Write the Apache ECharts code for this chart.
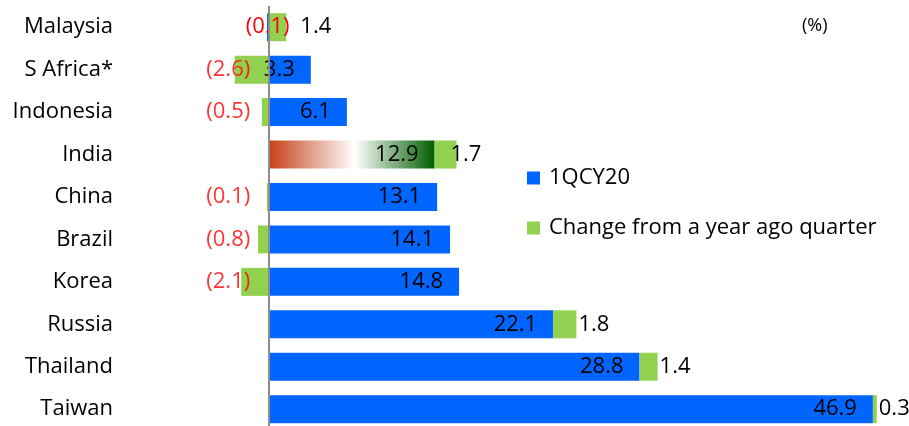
<!DOCTYPE html>
<html>
<head>
<meta charset="utf-8">
<script src="https://cdn.jsdelivr.net/npm/echarts@6/dist/echarts.min.js"></script>
<style>
  html, body { margin: 0; padding: 0; background: #fff; }
  #chart { width: 909px; height: 426px; }
</style>
</head>
<body>
<div id="chart"></div>
<script>
// Countries, top to bottom
const countries = ['Malaysia', 'S Africa*', 'Indonesia', 'India', 'China', 'Brazil', 'Korea', 'Russia', 'Thailand', 'Taiwan'];
// Level in 1QCY20 (%)
const current = [-0.1, 3.3, 6.1, 12.9, 13.1, 14.1, 14.8, 22.1, 28.8, 46.9];
// Change from a year ago quarter (pp)
const change = [1.4, -2.6, -0.5, 1.7, -0.1, -0.8, -2.1, 1.8, 1.4, 0.3];
// Where the negative-change labels are right-aligned (axis units)
const negLabelAnchor = -1.4;

const FONT = '"Open Sans", Lato, sans-serif';
const FS = 22;
const BLUE = '#0066FF';
const GREEN = '#92D050';
const RED = '#FF0000';

const fmt = v => v < 0 ? '(' + Math.abs(v).toFixed(1) + ')' : v.toFixed(1);

const indiaGradient = new echarts.graphic.LinearGradient(0, 0, 1, 0, [
  { offset: 0, color: '#C63E14' },
  { offset: 0.52, color: '#FFFFFF' },
  { offset: 1, color: '#005E00' }
]);

const currentData = current.map((v, i) => {
  const item = { value: v };
  if (countries[i] === 'India') item.itemStyle = { color: indiaGradient };
  if (v < 0) {
    item.label = { position: 'inside', color: RED, distance: 0 };
  }
  return item;
});

const changeData = change.map((v, i) => {
  const item = { value: v };
  if (v < 0) {
    item.label = { show: false };
  } else if (countries[i] === 'Malaysia') {
    item.label = { offset: [12, 0] };
  } else if (countries[i] === 'India') {
    item.label = { offset: [-8, 0] };
  }
  return item;
});

const negLabels = [];
change.forEach((v, i) => {
  if (v < 0) negLabels.push({ value: [negLabelAnchor, countries[i]], change: v });
});

const chart = echarts.init(document.getElementById('chart'), null, { renderer: 'canvas' });
chart.setOption({
  animation: false,
  backgroundColor: '#fff',
  textStyle: { fontFamily: FONT },
  title: {
    text: '(%)',
    left: 797, top: 12,
    textStyle: { fontFamily: FONT, fontSize: 18, fontWeight: 'normal', color: '#000' }
  },
  legend: {
    orient: 'vertical',
    left: 522, top: 162,
    itemWidth: 13, itemHeight: 13,
    itemGap: 28,
    icon: 'rect',
    data: [
      { name: '1QCY20', itemStyle: { color: BLUE } },
      { name: 'Change from a year ago quarter', itemStyle: { color: GREEN } }
    ],
    textStyle: { fontFamily: FONT, fontSize: FS, color: '#000', padding: [0, 0, 0, 4] }
  },
  grid: { left: 120, right: 0, top: 6, height: 424.4, outerBoundsMode: 'none' },
  xAxis: {
    type: 'value',
    min: -11.5, max: 49.7,
    show: false
  },
  yAxis: {
    type: 'category',
    data: countries,
    inverse: true,
    axisLine: { show: false },
    axisTick: { show: false },
    splitLine: { show: false },
    axisLabel: { fontFamily: FONT, fontSize: FS, color: '#000', margin: 7 }
  },
  series: [
    {
      name: '1QCY20',
      type: 'bar',
      stack: 'total',
      barWidth: 28,
      itemStyle: { color: BLUE },
      label: {
        show: true,
        position: 'insideRight',
        distance: 16,
        color: '#000',
        fontFamily: FONT,
        fontSize: FS,
        formatter: p => fmt(p.value)
      },
      markLine: {
        silent: true,
        symbol: 'none',
        label: { show: false },
        lineStyle: { color: '#8C8C8C', width: 2, type: 'solid' },
        data: [{ xAxis: 0 }]
      },
      data: currentData
    },
    {
      name: 'Change from a year ago quarter',
      type: 'bar',
      stack: 'total',
      barWidth: 28,
      itemStyle: { color: GREEN },
      label: {
        show: true,
        position: 'right',
        distance: 2,
        color: '#000',
        fontFamily: FONT,
        fontSize: FS,
        formatter: p => fmt(p.value)
      },
      data: changeData
    },
    {
      name: 'negLabels',
      type: 'scatter',
      symbolSize: 0,
      silent: true,
      label: {
        show: true,
        position: 'left',
        distance: 0,
        color: RED,
        fontFamily: FONT,
        fontSize: FS,
        formatter: p => fmt(p.data.change)
      },
      data: negLabels
    }
  ]
});
</script>
</body>
</html>
